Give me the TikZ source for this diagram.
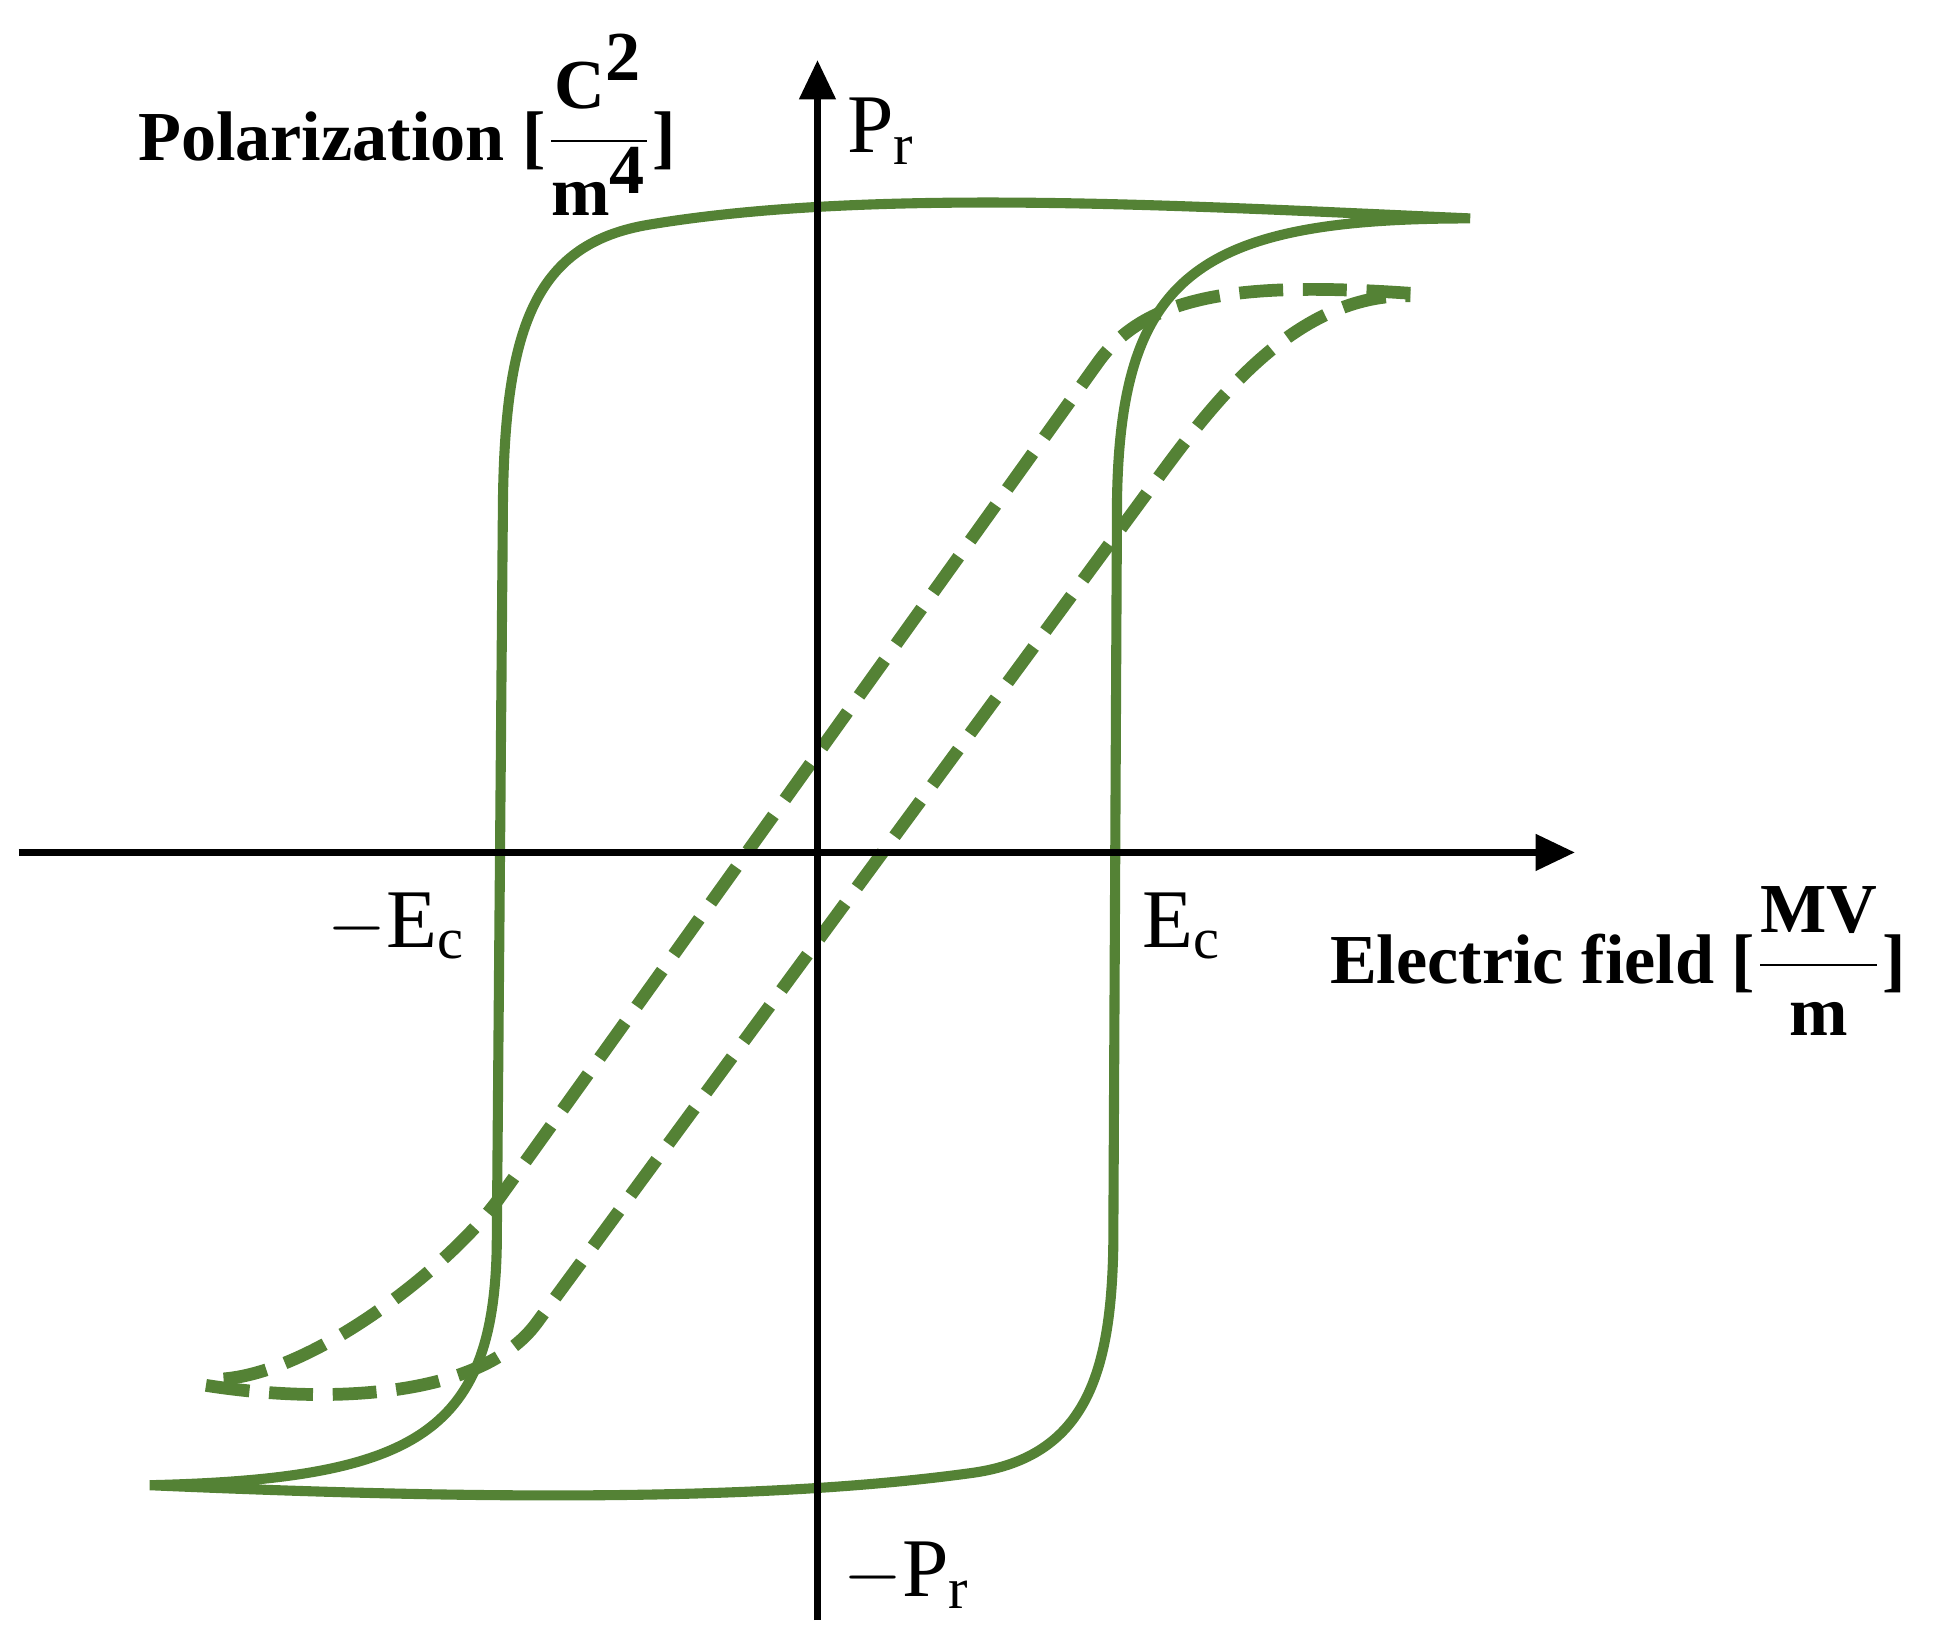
\documentclass[tikz,border=0pt]{standalone}
\usepackage{fontspec}
\setmainfont{Liberation Serif}
\usetikzlibrary{arrows.meta}
\definecolor{lg}{RGB}{84,130,53}
\begin{document}
\begin{tikzpicture}[x=0.01cm,y=-0.01cm,
  axis/.style={line width=1.7pt,-{Triangle[length=9pt,width=8pt]}},
  solidloop/.style={lg,line width=2.3pt},
  dashloop/.style={lg,line width=2.9pt,dash pattern=on 10pt off 4.5pt},
  lab/.style={font=\fontsize{19}{22}\selectfont,inner sep=0},
  blab/.style={font=\bfseries\fontsize{16}{19}\selectfont,inner sep=0}]
\useasboundingbox (0,0) rectangle (1556,1306);
\coordinate (xs) at (15,683); \coordinate (xe) at (1262,683);
\coordinate (ys) at (655,1298); \coordinate (ye) at (655,48);
% solid loop
\draw[solidloop] (1178,175) .. controls (950,165) and (700,150) .. (520,180)
  .. controls (430,195) and (405,260) .. (403,400) -- (398,1000)
  .. controls (395,1150) and (330,1185) .. (120,1190)
  .. controls (350,1200) and (600,1205) .. (780,1180)
  .. controls (870,1167) and (890,1100) .. (892,1000) -- (895,400)
  .. controls (898,220) and (960,175) .. (1178,175);
% dashed loop
\draw[dashloop] (1130,235) .. controls (1000,226) and (920,234) .. (880,290)
  -- (400,960) .. controls (360,1016) and (240,1110) .. (165,1105);
\draw[dashloop] (165,1110) .. controls (260,1125) and (385,1121) .. (430,1060)
  -- (930,380) .. controls (975,319) and (1040,235) .. (1130,237);
\draw[axis] (xs) -- (xe);
\draw[axis] (ys) -- (ye);
\node[lab,anchor=west] (pr) at (678,105) {P\textsubscript{r}};
\node[lab,anchor=west] (mpr) at (675,1262) {$-$P\textsubscript{r}};
\node[lab,anchor=west] (mec) at (262,742) {$-$E\textsubscript{c}};
\node[lab,anchor=west] (ec) at (915,742) {E\textsubscript{c}};
\node[blab,anchor=west] (pol) at (110,100) {Polarization [$\displaystyle\frac{\textbf{C}^{\scriptscriptstyle\textbf{2}}}{\textbf{m}^{\scriptscriptstyle\textbf{4}}}$]};
\node[blab,anchor=west] (ef) at (1065,770) {Electric field [$\displaystyle\frac{\textbf{MV}}{\textbf{m}}$]};
\end{tikzpicture}
\end{document}
